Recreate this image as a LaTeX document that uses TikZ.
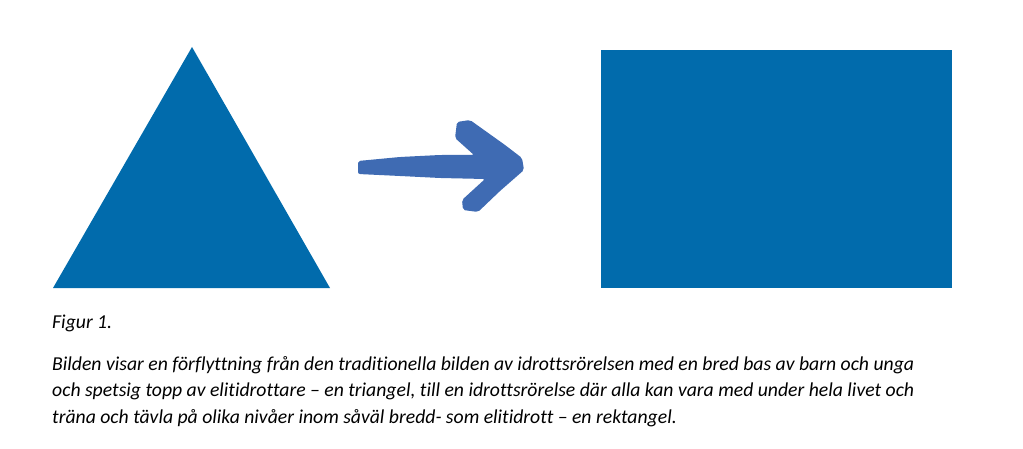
\documentclass[tikz,border=0pt]{standalone}
\usepackage{fontspec}
\setmainfont{Carlito}[Ligatures=NoCommon]
\usepackage{xcolor}
\usepackage{tikz}
\usetikzlibrary{positioning}
\definecolor{shapeblue}{HTML}{016BAC}
\definecolor{brushblue}{HTML}{3F6BB3}
\tikzset{
  figshape/.style={fill=shapeblue, draw=none},
  brush/.style={fill=brushblue, draw=none, rounded corners=2pt},
  captext/.style={anchor=base west, inner sep=0pt,
    font=\fontsize{19.7}{26.7}\selectfont\itshape}
}

\begin{document}
\begin{tikzpicture}[x=1pt, y=-1pt]
\useasboundingbox (0,0) rectangle (1023,449);
% triangle
\coordinate (tA) at (192,47);
\coordinate (tL) at (53,288);
\coordinate (tR) at (330,288);
\fill[figshape] (tA) -- (tR) -- (tL) -- cycle;
% rectangle
\coordinate (rNW) at (601,50);
\coordinate (rSE) at (952,288);
\fill[figshape] (rNW) rectangle (rSE);
% brush arrow
\fill[brush] (358,161) -- (400,157) -- (440,155) -- (474,155) -- (455,138) -- (457,122)
  -- (470,120) -- (505,145) -- (522,158) -- (524,170) -- (500,191)
  -- (478,212) -- (463,210) -- (462,200) -- (485,179) -- (440,178) -- (400,176)
  -- (358,174) -- cycle;
% caption
\node[captext] (fig) at (52,328) {Figur 1.};
\node[captext] (cap1) at (52,370) {Bilden visar en förflyttning från den traditionella bilden av idrottsrörelsen med en bred bas av barn och unga};
\node[captext] (cap2) at (52,396.7) {och spetsig topp av elitidrottare – en triangel, till en idrottsrörelse där alla kan vara med under hela livet och};
\node[captext] (cap3) at (52,423.3) {träna och tävla på olika nivåer inom såväl bredd- som elitidrott – en rektangel.};
\end{tikzpicture}
\end{document}
